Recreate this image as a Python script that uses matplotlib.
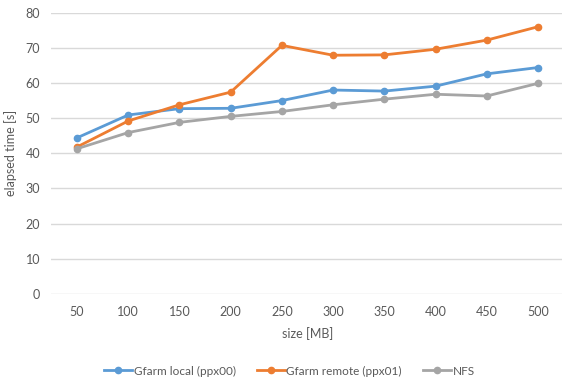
import matplotlib.pyplot as plt

sizes = ["50", "100", "150", "200", "250", "300", "350", "400", "450", "500"]
gfarm_local = [44.4, 50.9, 52.7, 52.8, 55.0, 58.0, 57.7, 59.1, 62.6, 64.4]
gfarm_remote = [41.8, 49.2, 53.8, 57.4, 70.7, 67.9, 68.0, 69.6, 72.2, 76.0]
nfs = [41.3, 45.9, 48.8, 50.5, 51.9, 53.8, 55.4, 56.8, 56.3, 59.9]

plt.rcParams['font.family'] = ['Lato', 'DejaVu Sans']
txt = '#595959'

fig = plt.figure(figsize=(5.62, 3.8), dpi=100)
ax = fig.add_axes([51.4 / 562, 1 - 293.9 / 380, 512.2 / 562, 281.2 / 380])

x = range(len(sizes))
ax.plot(x, gfarm_local, color='#5B9BD5', lw=2, marker='o', ms=4.5, label='Gfarm local (ppx00)')
ax.plot(x, gfarm_remote, color='#ED7D31', lw=2, marker='o', ms=4.5, label='Gfarm remote (ppx01)')
ax.plot(x, nfs, color='#A5A5A5', lw=2, marker='o', ms=4.5, label='NFS')

ax.set_xlim(-0.5, len(sizes) - 0.5)
ax.set_ylim(0, 80)
ax.set_yticks(range(0, 81, 10))
ax.set_xticks(list(x))
ax.set_xticklabels(sizes)
ax.grid(axis='y', color='#D9D9D9', lw=1)
ax.set_axisbelow(True)
for s in ax.spines.values():
    s.set_visible(False)
ax.tick_params(length=0, colors=txt, labelsize=9)
ax.tick_params(axis='y', pad=8)
ax.tick_params(axis='x', pad=9)

ax.set_xlabel('size [MB]', color=txt, fontsize=9, labelpad=6)
ax.set_ylabel('elapsed time [s]', color=txt, fontsize=9, labelpad=6)

leg = fig.legend(loc='center', bbox_to_anchor=(0.515, 1 - 371 / 380), ncol=3, frameon=False,
                 fontsize=8.5, handlelength=2.4, handletextpad=0.1, columnspacing=1.8)
for t in leg.get_texts():
    t.set_color(txt)

fig.savefig('out.png', dpi=100)
